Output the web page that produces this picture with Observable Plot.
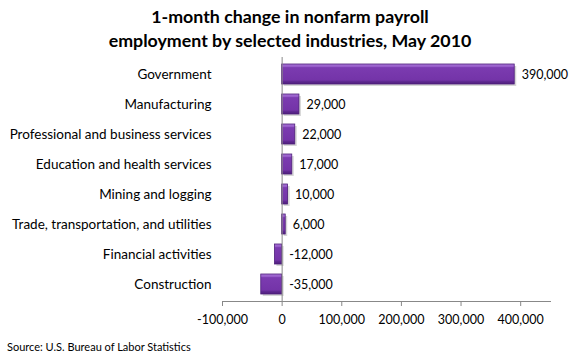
<!DOCTYPE html>
<html>
<head>
<meta charset="utf-8">
<script src="https://cdn.jsdelivr.net/npm/d3@7"></script>
<script src="https://cdn.jsdelivr.net/npm/@observablehq/plot@0.6"></script>
<style>
  html, body { margin: 0; padding: 0; background: #fff; }
  #wrap { position: relative; width: 580px; height: 360px; font-family: Lato, "Open Sans", sans-serif; }
  #title { position: absolute; left: 0; top: 4px; width: 580px; text-align: center; font-weight: bold; font-size: 17.8px; line-height: 24px; color: #000; }
  #source { position: absolute; left: 7px; top: 340px; font-size: 11px; color: #000; }
  #chart { position: absolute; left: 0; top: 0; }
</style>
</head>
<body>
<div id="wrap">
  <div id="chart"></div>
  <div id="title">1-month change in nonfarm payroll<br>employment by selected industries, May 2010</div>
  <div id="source">Source: U.S. Bureau of Labor Statistics</div>
</div>
<script>
const categories = [
  "Government",
  "Manufacturing",
  "Professional and business services",
  "Education and health services",
  "Mining and logging",
  "Trade, transportation, and utilities",
  "Financial activities",
  "Construction"
];
const values = [390000, 29000, 22000, 17000, 10000, 6000, -12000, -35000];
const xTicks = [-100000, 0, 100000, 200000, 300000, 400000];

const data = categories.map((name, i) => ({name, value: values[i]}));
const fmt = d => d.toLocaleString("en-US");

const plot = Plot.plot({
  width: 580,
  height: 360,
  marginLeft: 222,
  marginRight: 30,
  marginTop: 57,
  marginBottom: 59,
  style: {fontFamily: "Lato, 'Open Sans', sans-serif", fontSize: "12px", color: "#000", background: "transparent"},
  x: {domain: [-100000, 450000], label: null},
  y: {domain: categories, paddingInner: 0.33, paddingOuter: 0.165, label: null},
  marks: [
    Plot.barX(data, {x: "value", y: "name", fill: "#bbb", fillOpacity: 0.6, dx: 2, dy: 2}),
    Plot.barX(data, {x: "value", y: "name", fill: "url(#barGrad)", stroke: "#4e1f7a", strokeWidth: 0.8}),
    Plot.ruleX([0], {stroke: "#888", strokeWidth: 1}),
    Plot.text(data, {x: d => Math.max(d.value, 0), y: "name", text: d => fmt(d.value), textAnchor: "start", dx: 7, fill: "#000", fontSize: 12.5}),
    Plot.axisX({ticks: xTicks, tickFormat: fmt, tickSize: 5, tickPadding: 9, stroke: "#888", fill: "#000", fontSize: 12.5, label: null}),
    Plot.axisY({tickSize: 0, tickPadding: 11, fontSize: 13.5, fill: "#000", label: null}),
    Plot.frame({anchor: "bottom", stroke: "#888"})
  ]
});

const svg = d3.select(plot);
const defs = svg.insert("defs", ":first-child");
const g = defs.append("linearGradient").attr("id", "barGrad").attr("x1", 0).attr("y1", 0).attr("x2", 0).attr("y2", 1);
[["0%", "#a774d6"], ["14%", "#9459c8"], ["18%", "#7b3bb0"], ["80%", "#7434a8"], ["88%", "#5e2890"], ["100%", "#4f1f7c"]]
  .forEach(([o, c]) => g.append("stop").attr("offset", o).attr("stop-color", c));

document.getElementById("chart").appendChild(plot);
</script>
</body>
</html>
